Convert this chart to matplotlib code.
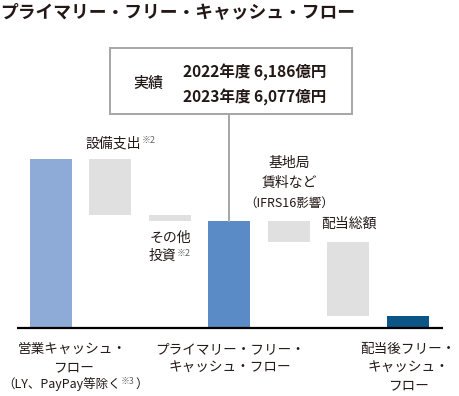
import matplotlib
matplotlib.use('Agg')
import matplotlib.pyplot as plt
from matplotlib.patches import Rectangle

plt.rcParams['font.family'] = ['Noto Sans CJK JP', 'DejaVu Sans']

# ---- data (億円) ----
categories = ['営業キャッシュ・フロー', '設備支出', 'その他投資',
              'プライマリー・フリー・キャッシュ・フロー', '基地局賃料など',
              '配当総額', '配当後フリー・キャッシュ・フロー']
values = [9600, -3200, -320, 6080, -1180, -4220, 680]
kinds = ['total', 'delta', 'delta', 'total', 'delta', 'delta', 'total']
bar_colors = ['#8eabd8', '#e0e0e0', '#e0e0e0', '#5b8bc7', '#e0e0e0', '#e0e0e0', '#0b5587']
actual_lines = ['2022年度 6,186億円', '2023年度 6,077億円']

W, H = 460, 396
TXT = '#231815'
NOTE = '#666666'
fig = plt.figure(figsize=(W / 100, H / 100), dpi=100)
fig.patch.set_facecolor('white')
renderer = fig.canvas.get_renderer()

PX = 107 / 6080  # pixels per unit
ax = fig.add_axes([17 / W, (H - 328) / H, 426 / W, 300 / H])
ax.set_xlim(-0.571, 6.59)
ax.set_ylim(0, 300 / PX)
ax.axis('off')

bottoms, heights = [], []
running = 0
for v, k in zip(values, kinds):
    if k == 'total':
        bottoms.append(0)
        heights.append(v)
        running = v
    else:
        bottoms.append(running + v)
        heights.append(-v)
        running += v

x = list(range(len(categories)))
ax.bar(x, heights, bottom=bottoms, width=0.706, color=bar_colors, linewidth=0)
ax.plot([-0.571, 6.59], [0, 0], color='black', lw=1.6, clip_on=False, solid_capstyle='butt')


def y_of_px(py):
    return (328 - py) / PX


# connector from box to primary FCF bar
ax.plot([3, 3], [values[3], y_of_px(114)], color='#a6a6a6', lw=1.4, clip_on=False)

fig.patches.append(Rectangle((110 / W, 1 - 114 / H), 242 / W, 66 / H,
                             transform=fig.transFigure, fill=False,
                             ec='#a6a6a6', lw=1.4))


def T(px, py, s, size=9.8, ha='center', va='center', weight='normal', color=TXT):
    return fig.text(px / W, 1 - py / H, s, fontsize=size, ha=ha, va=va,
                    weight=weight, color=color)


def seq(px, py, parts, ha='center', gap=0.5):
    """Lay out text pieces left to right: parts = (text, size, dy, color)."""
    objs = []
    for s, size, dy, color in parts:
        objs.append((T(0, py - dy, s, size=size, ha='left', color=color), dy))
    widths = [o.get_window_extent(renderer).width for o, _ in objs]
    total = sum(widths) + gap * (len(widths) - 1)
    start = px - total / 2 if ha == 'center' else px
    cur = start
    for (o, dy), w in zip(objs, widths):
        o.set_position((cur / W, 1 - (py - dy) / H))
        cur += w + gap


# title
T(0, 12, 'プライマリー・フリー・キャッシュ・フロー', size=12.8, ha='left', weight='bold')

# box
T(148, 83, '実績', size=10.8, weight='medium')
T(183, 72, actual_lines[0], size=11.2, ha='left', weight='bold')
T(183, 97, actual_lines[1], size=11.2, ha='left', weight='bold')

# bar labels
seq(86, 143, [('設備支出', 10.0, 0, TXT), ('※2', 6.5, 3, NOTE)], ha='left')
T(170, 238, 'その他', size=10.0)
seq(149, 256, [('投資', 10.0, 0, TXT), ('※2', 6.5, 3, NOTE)], ha='left')
T(289, 163, '基地局', size=10.0)
T(289, 183, '賃料など', size=10.0)
T(289, 203, '（IFRS16影響）', size=9.0)
T(349, 224, '配当総額', size=10.0)

# category labels below
T(72, 349, '営業キャッシュ・')
T(73, 367, 'フロー')
seq(75, 384, [('（LY、PayPay等除く', 9.0, 0, TXT), ('※3', 6.3, 3, NOTE), ('）', 9.0, 0, TXT)])
T(230, 349, 'プライマリー・フリー・')
T(230, 367, 'キャッシュ・フロー')
T(408, 349, '配当後フリー・')
T(408, 367, 'キャッシュ・')
T(408, 385, 'フロー')

fig.savefig('out.png', dpi=100, facecolor='white')
